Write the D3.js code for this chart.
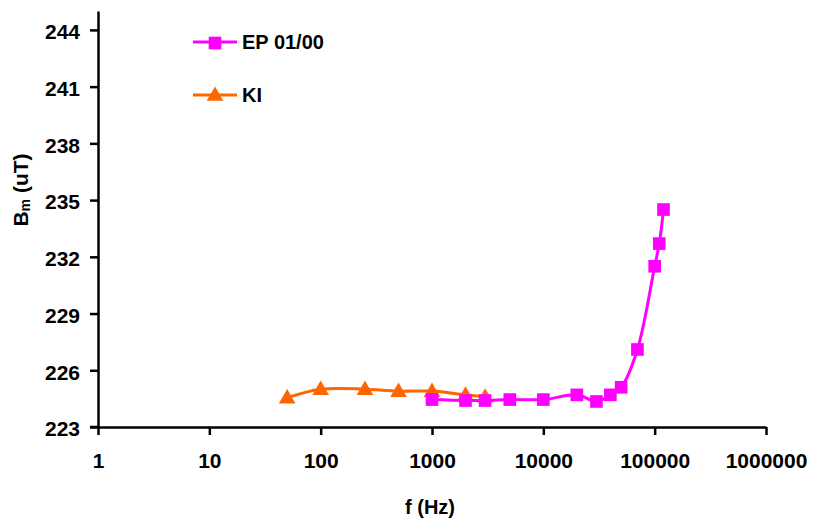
<!DOCTYPE html>
<html>
<head>
  <script src="https://d3js.org/d3.v7.min.js"></script>
  <style>
    body { margin: 0; background: #fff; }
    text { font-family: Arial, "Liberation Sans", sans-serif; font-weight: bold; }
  </style>
</head>
<body>
<script>
// data
var epFreq = [1000, 2000, 3000, 5000, 10000, 20000, 30000, 40000, 50000, 70000, 100000, 110000, 120000];
var epBm   = [224.45, 224.4, 224.4, 224.45, 224.45, 224.7, 224.35, 224.7, 225.1, 227.1, 231.5, 232.7, 234.5];
var kiFreq = [50, 100, 250, 500, 1000, 2000, 3000];
var kiBm   = [224.55, 225.0, 225.0, 224.9, 224.9, 224.7, 224.6];
var yTicks = [223, 226, 229, 232, 235, 238, 241, 244];
var xTicks = [1, 10, 100, 1000, 10000, 100000, 1000000];

var width = 814, height = 523;
var plotLeft = 98, plotRight = 766, plotTop = 11, plotBottom = 427;

var svg = d3.select("body").append("svg")
  .attr("width", width)
  .attr("height", height);

var x = d3.scaleLog().domain([1, 1000000]).range([plotLeft, plotRight]);
var y = d3.scaleLinear().domain([223, 245]).range([plotBottom, plotTop]);

// axes
var yAxis = svg.append("g")
  .attr("transform", "translate(" + plotLeft + ",0)")
  .call(d3.axisLeft(y).tickValues(yTicks).tickSize(8).tickPadding(10).tickSizeOuter(0));
yAxis.selectAll("text").attr("dy", "0.42em");

var xAxis = svg.append("g")
  .attr("transform", "translate(0," + plotBottom + ")")
  .call(d3.axisBottom(x).tickValues(xTicks).tickFormat(d3.format("d")).tickSize(8).tickPadding(18).tickSizeOuter(0));

svg.selectAll(".domain, .tick line").attr("stroke", "#000").attr("stroke-width", 2.5);
svg.selectAll(".tick text").attr("fill", "#000").style("font-size", "21px");

// the x axis line runs a bit left of the y axis, like the tick marks
svg.append("line")
  .attr("x1", plotLeft - 8).attr("x2", plotLeft)
  .attr("y1", plotBottom).attr("y2", plotBottom)
  .attr("stroke", "#000").attr("stroke-width", 2.5);

// axis titles
svg.append("text")
  .attr("x", 430).attr("y", 514)
  .attr("text-anchor", "middle")
  .style("font-size", "20px")
  .text("f (Hz)");

var yt = svg.append("text")
  .attr("transform", "translate(28,190) rotate(-90)")
  .attr("text-anchor", "middle")
  .style("font-size", "21px");
yt.append("tspan").text("B");
yt.append("tspan").attr("dy", 2).style("font-size", "14px").text("m");
yt.append("tspan").attr("dy", -2).text(" (uT)");

// series
var line = d3.line()
  .x(function(d) { return x(d[0]); })
  .y(function(d) { return y(d[1]); })
  .curve(d3.curveCatmullRom.alpha(0.5));

var ep = epFreq.map(function(f, i) { return [f, epBm[i]]; });
var ki = kiFreq.map(function(f, i) { return [f, kiBm[i]]; });

var magenta = "#FF00FF", orange = "#FF6600";
var square = d3.symbol().type(d3.symbolSquare).size(160);
var tri = d3.symbol().type(d3.symbolTriangle).size(120);

svg.append("path").datum(ki)
  .attr("d", line)
  .attr("fill", "none").attr("stroke", orange).attr("stroke-width", 3);
svg.selectAll(".ki").data(ki).enter().append("path")
  .attr("class", "ki")
  .attr("d", tri)
  .attr("transform", function(d) { return "translate(" + x(d[0]) + "," + (y(d[1]) + 1) + ")"; })
  .attr("fill", orange);

svg.append("path").datum(ep)
  .attr("d", line)
  .attr("fill", "none").attr("stroke", magenta).attr("stroke-width", 3);
svg.selectAll(".ep").data(ep).enter().append("path")
  .attr("class", "ep")
  .attr("d", square)
  .attr("transform", function(d) { return "translate(" + x(d[0]) + "," + y(d[1]) + ")"; })
  .attr("fill", magenta);

// legend
var legend = [
  { name: "EP 01/00", color: magenta, sym: square, y: 42 },
  { name: "KI", color: orange, sym: tri, y: 95 }
];
var lg = svg.selectAll(".legend").data(legend).enter().append("g")
  .attr("class", "legend");
lg.append("line")
  .attr("x1", 193).attr("x2", 237)
  .attr("y1", function(d) { return d.y; }).attr("y2", function(d) { return d.y; })
  .attr("stroke", function(d) { return d.color; }).attr("stroke-width", 3);
lg.append("path")
  .attr("d", function(d) { return d.sym(); })
  .attr("transform", function(d) { return "translate(215," + (d.y + 1) + ")"; })
  .attr("fill", function(d) { return d.color; });
lg.append("text")
  .attr("x", 242)
  .attr("y", function(d) { return d.y + 7; })
  .style("font-size", "20px")
  .text(function(d) { return d.name; });
</script>
</body>
</html>
